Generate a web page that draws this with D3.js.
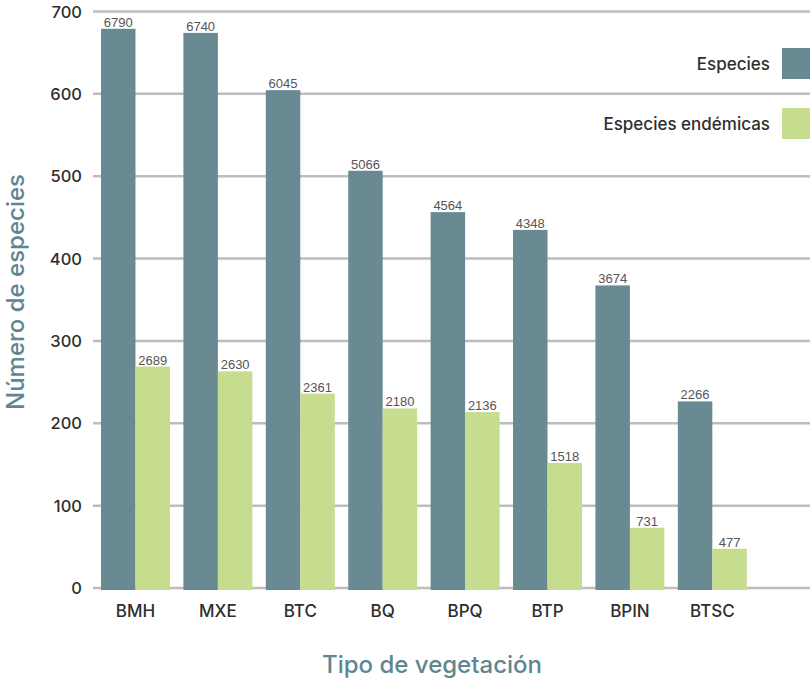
<!DOCTYPE html>
<html><head><meta charset="utf-8">
<script src="https://cdn.jsdelivr.net/npm/d3@7"></script>
<style>body{margin:0;background:#fff}svg{display:block}</style>
</head><body>
<svg id="c" width="810" height="680"></svg>
<script>
const categories = ["BMH","MXE","BTC","BQ","BPQ","BTP","BPIN","BTSC"];
const especies = [6790,6740,6045,5066,4564,4348,3674,2266];
const endemicas = [2689,2630,2361,2180,2136,1518,731,477];
const yTicks = [0,100,200,300,400,500,600,700];
const seriesNames = ["Especies","Especies endémicas"];
const colors = ["#6a8a93","#c6dc8e"];

const FONT = "Inter, Liberation Sans, Arial, sans-serif";
const svg = d3.select("#c");
const y = d3.scaleLinear().domain([0,700]).range([588,11.5]);
const x = d3.scaleBand().domain(categories).range([101,746.8]).paddingInner(0.163).paddingOuter(0);
const xs = d3.scaleBand().domain([0,1]).range([0,x.bandwidth()]);

// grid
svg.append("g").selectAll("line").data(yTicks).join("line")
  .attr("x1",93).attr("x2",810).attr("y1",d=>y(d)).attr("y2",d=>y(d))
  .attr("stroke","#bdbdbd").attr("stroke-width",2.5);
svg.append("g").selectAll("text").data(yTicks).join("text")
  .attr("x",82).attr("y",d=>y(d)+6).attr("text-anchor","end")
  .attr("font-family",FONT).attr("font-weight",500)
  .attr("font-size",16.5).attr("fill","#2e2e2e").text(d=>d);

const series = [especies, endemicas];
series.forEach((vals,si)=>{
  const g = svg.append("g");
  g.selectAll("rect").data(categories).join("rect")
    .attr("x",(c)=>x(c)+xs(si)).attr("width",xs.bandwidth())
    .attr("y",(c,i)=>y(vals[i]/10)).attr("height",(c,i)=>y(0)+2-y(vals[i]/10))
    .attr("fill",colors[si]);
  g.selectAll("text").data(categories).join("text")
    .attr("x",(c)=>x(c)+xs(si)+xs.bandwidth()/2).attr("y",(c,i)=>y(vals[i]/10)-2)
    .attr("text-anchor","middle")
    .attr("font-family","Liberation Sans Narrow, Arial Narrow, sans-serif")
    .attr("font-size",13).attr("fill","#555").text((c,i)=>vals[i]);
});

// category labels
svg.append("g").selectAll("text").data(categories).join("text")
  .attr("x",c=>x(c)+x.bandwidth()/2).attr("y",617).attr("text-anchor","middle")
  .attr("font-family",FONT).attr("font-weight",500)
  .attr("font-size",17).attr("fill","#2e2e2e").text(d=>d);

// axis titles
svg.append("text").attr("x",432).attr("y",673).attr("text-anchor","middle")
  .attr("font-family",FONT).attr("font-weight",500)
  .attr("font-size",24).attr("fill","#5f8690").text("Tipo de vegetación");
svg.append("text").attr("transform","translate(24,292) rotate(-90)").attr("text-anchor","middle")
  .attr("font-family",FONT).attr("font-weight",500)
  .attr("font-size",24).attr("fill","#5f8690").text("Número de especies");

// legend
const leg = svg.append("g");
seriesNames.forEach((n,i)=>{
  const ly = 48 + i*60;
  leg.append("rect").attr("x",782).attr("y",ly).attr("width",28).attr("height",31).attr("fill",colors[i]);
  leg.append("text").attr("x",770).attr("y",ly+21.5).attr("text-anchor","end")
    .attr("font-family",FONT).attr("font-weight",500)
    .attr("font-size",17).attr("fill","#2e2e2e").text(n);
});
</script>
</body></html>
